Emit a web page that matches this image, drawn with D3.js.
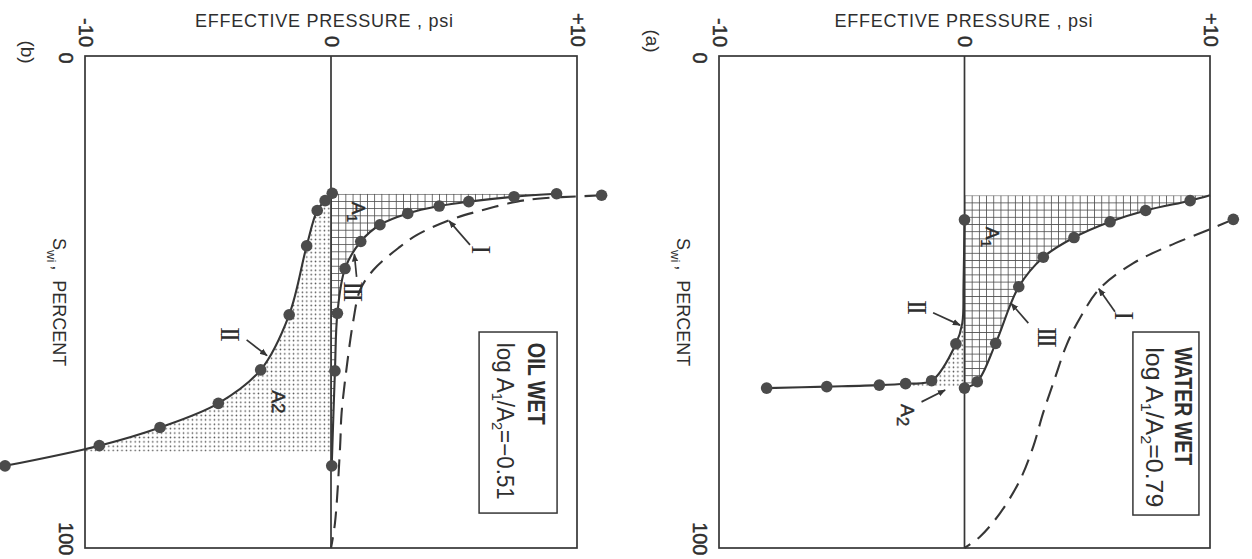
<!DOCTYPE html>
<html>
<head>
<meta charset="utf-8">
<script src="https://cdn.jsdelivr.net/npm/d3@7"></script>
<style>
  html, body { margin: 0; padding: 0; background: #ffffff; }
  svg { display: block; }
  text { font-family: "Liberation Sans", Arial, Helvetica, sans-serif; fill: #2e2e2e; }
  text.roman { font-family: "Liberation Serif", "DejaVu Serif", serif; }
  text.heavy { stroke: #2e2e2e; stroke-width: 0.45px; }
</style>
</head>
<body>
<svg id="chart" width="1252" height="559"></svg>
<script>
// ---------- axis ticks ----------
const psiTicks = [-10, 0, 10];
const psiTickLabels = ["-10", "0", "+10"];
const satTicks = [0, 100];
const satTickLabels = ["0", "100"];

// ---------- (b) oil wet : effective pressure (psi) vs S_wi (%) ----------
const oilI_psi   = [11.0, 10.24, 8.62, 7.55, 6.18, 4.84, 3.48, 2.80, 1.72, 1.18, 0.91, 0.64, 0.43, 0.37, 0.16, 0];
const oilI_sat   = [28.3, 28.5, 28.9, 29.6, 31.3, 33.3, 36.4, 38.8, 43.5, 47.6, 53.7, 63.2, 72.6, 79.4, 95.0, 100];
const oilI_dot   = [1, 0, 0, 0, 0, 0, 0, 0, 0, 0, 0, 0, 0, 0, 0, 0];
const oilII_psi  = [0.05, -0.24, -0.56, -0.99, -1.70, -2.86, -4.58, -6.95, -9.42, -13.25];
const oilII_sat  = [27.9, 29.4, 31.4, 38.6, 52.6, 63.8, 70.6, 75.5, 79.2, 83.3];
const oilII_dot  = [1, 1, 1, 1, 1, 1, 1, 1, 1, 1];
const oilIII_psi = [9.17, 7.44, 5.60, 4.40, 3.12, 1.99, 1.21, 0.57, 0.26, 0.16, 0.03];
const oilIII_sat = [28.0, 28.6, 29.6, 30.5, 32.0, 34.3, 37.7, 43.2, 52.3, 64.0, 83.3];
const oilIII_dot = [1, 1, 1, 1, 1, 1, 1, 1, 1, 1, 1];

// ---------- (a) water wet ----------
const waterI_psi   = [10.95, 10.0, 8.24, 6.88, 5.52, 4.70, 4.16, 3.69, 3.20, 2.80, 2.26, 1.45, 0.63, 0];
const waterI_sat   = [33.2, 35.2, 38.8, 42.1, 47.2, 53.3, 58.7, 65.4, 72.6, 79.4, 86.2, 92.9, 97.7, 100];
const waterI_dot   = [1, 0, 0, 0, 0, 0, 0, 0, 0, 0, 0, 0, 0, 0];
const waterII_psi  = [0, -0.04, -0.09, -0.35, -1.34, -2.40, -3.47, -5.61, -8.06];
const waterII_sat  = [33.3, 46.7, 54.3, 58.5, 66.0, 66.6, 66.9, 67.2, 67.5];
const waterII_dot  = [1, 0, 0, 1, 1, 1, 1, 1, 1];
const waterIII_psi = [10.0, 9.19, 7.38, 5.93, 4.46, 3.21, 2.21, 1.27, 0.52, 0];
const waterIII_sat = [28.3, 29.4, 31.4, 33.7, 36.9, 40.9, 46.9, 58.4, 66.2, 67.5];
const waterIII_dot = [0, 1, 1, 1, 1, 1, 1, 1, 1, 1];

// ---------- panel captions ----------
const panelTags   = ["(b)", "(a)"];
const wettability = ["OIL WET", "WATER WET"];
const logRatio    = ["\u22120.51", "0.79"];

const INK = "#363636";
const DOT = "#4b4b4b";

const svg = d3.select("#chart");
const defs = svg.append("defs");

defs.append("marker")
  .attr("id", "arrow")
  .attr("viewBox", "0 0 10 10")
  .attr("refX", 9).attr("refY", 5)
  .attr("markerWidth", 8).attr("markerHeight", 8)
  .attr("markerUnits", "userSpaceOnUse")
  .attr("orient", "auto")
  .append("path").attr("d", "M0,1 L10,5 L0,9 Z").attr("fill", INK);

const zip = (psi, sat, dot) => psi.map((p, i) => ({ p, s: sat[i], dot: dot[i] }));

const panels = [
  {
    key: "b", left: 85, right: 577, tag: panelTags[0], tagPos: [28, 52], titleShift: -7, satLabelX: 53,
    curveI: zip(oilI_psi, oilI_sat, oilI_dot),
    curveII: zip(oilII_psi, oilII_sat, oilII_dot),
    curveIII: zip(oilIII_psi, oilIII_sat, oilIII_dot),
    a1: { top: 28.0, bottom: 83.3 },
    a2: { top: 27.9, bottom: 80.4, left: -10 },
    a1Label: { p: 1.10, s: 31.7 },
    a2Label: { p: -2.15, s: 70.3, sub: false, arrow: null },
    roman: [
      { t: "III", p: 0.89, s: 47.6, from: [1.04, 44.9], to: [0.95, 40.3] },
      { t: "I",   p: 6.10, s: 39.4, from: [5.65, 38.4], to: [4.80, 33.5] },
      { t: "II",  p: -4.11, s: 56.3, from: [-3.43, 57.7], to: [-2.60, 60.9] }
    ],
    box: { p0: 6.02, p1: 9.19, s0: 56.1, s1: 92.9 },
    wetBase: 8.0, ratioBase: 6.75, textStart: 58.3,
    wetLen: 82, ratioLen: 157,
    wet: wettability[0], ratio: logRatio[0]
  },
  {
    key: "a", left: 719, right: 1210, tag: panelTags[1], tagPos: [653, 41], titleShift: -1, satLabelX: 677,
    curveI: zip(waterI_psi, waterI_sat, waterI_dot),
    curveII: zip(waterII_psi, waterII_sat, waterII_dot),
    curveIII: zip(waterIII_psi, waterIII_sat, waterIII_dot),
    a1: { top: 28.3, bottom: 67.5 },
    a2: { top: 33.3, bottom: 67.1, left: -2.25 },
    a1Label: { p: 1.12, s: 36.8 },
    a2Label: { p: -2.34, s: 73.0, sub: true, arrow: { from: [-1.75, 70.3], to: [-0.79, 67.9] } },
    roman: [
      { t: "II",  p: -1.93, s: 50.8, from: [-1.28, 52.2], to: [-0.18, 54.7] },
      { t: "III", p: 3.36, s: 56.9, from: [2.60, 54.3], to: [1.90, 50.3] },
      { t: "I",   p: 6.50, s: 52.8, from: [6.13, 52.0], to: [5.47, 47.3] }
    ],
    box: { p0: 6.86, p1: 9.55, s0: 56.1, s1: 93.3 },
    wetBase: 8.57, ratioBase: 7.39, textStart: 59.2,
    wetLen: 118, ratioLen: 160,
    wet: wettability[1], ratio: logRatio[1]
  }
];

// text turned a quarter turn clockwise, reading downward
function turned(g, px, py, anchor) {
  return g.append("text")
    .attr("transform", `translate(${px},${py}) rotate(90)`)
    .attr("text-anchor", anchor);
}
function runs(text, list) {
  list.forEach(r => {
    const t = text.append("tspan").attr("font-size", r.size).text(r.t);
    if (r.dy) t.attr("dy", r.dy);
    if (r.dx) t.attr("dx", r.dx);
  });
  return text;
}

panels.forEach(cfg => {
  const x = d3.scaleLinear().domain([-10, 10]).range([cfg.left, cfg.right]);
  const y = d3.scaleLinear().domain([0, 100]).range([56, 548]);
  const line = d3.line().x(d => x(d.p)).y(d => y(d.s)).curve(d3.curveCatmullRom.alpha(0.5));
  const g = svg.append("g");

  // fill patterns: square grid for A1, stipple for A2
  const hatch = defs.append("pattern")
    .attr("id", "grid-" + cfg.key).attr("patternUnits", "userSpaceOnUse")
    .attr("x", x(0)).attr("y", y(cfg.a1.top)).attr("width", 7.2).attr("height", 7.2);
  hatch.append("path").attr("d", "M0,0.4H7.2M0.4,0V7.2")
    .attr("stroke", "#4a4a4a").attr("stroke-width", 0.85).attr("fill", "none");
  const stip = defs.append("pattern")
    .attr("id", "stip-" + cfg.key).attr("patternUnits", "userSpaceOnUse")
    .attr("x", x(0)).attr("y", y(cfg.a2.top)).attr("width", 4.4).attr("height", 4.4);
  stip.append("circle").attr("cx", 2.2).attr("cy", 2.2).attr("r", 0.8).attr("fill", "#4a4a4a");

  defs.append("clipPath").attr("id", "clipA1-" + cfg.key).append("rect")
    .attr("x", x(0)).attr("y", y(cfg.a1.top))
    .attr("width", x(10) - x(0)).attr("height", y(cfg.a1.bottom) - y(cfg.a1.top));
  defs.append("clipPath").attr("id", "clipA2-" + cfg.key).append("rect")
    .attr("x", x(cfg.a2.left)).attr("y", y(cfg.a2.top))
    .attr("width", x(0) - x(cfg.a2.left)).attr("height", y(cfg.a2.bottom) - y(cfg.a2.top));

  // A1: between the zero line and curve III
  const iii = cfg.curveIII, ii = cfg.curveII;
  const lastIII = iii[iii.length - 1], lastII = ii[ii.length - 1];
  g.append("path")
    .attr("d", line(iii) + `L${x(0)},${y(lastIII.s)}L${x(0)},${y(cfg.a1.top)}Z`)
    .attr("fill", `url(#grid-${cfg.key})`).attr("clip-path", `url(#clipA1-${cfg.key})`);
  // A2: between curve II and the zero line
  g.append("path")
    .attr("d", line(ii) + `L${x(0)},${y(lastII.s)}Z`)
    .attr("fill", `url(#stip-${cfg.key})`).attr("clip-path", `url(#clipA2-${cfg.key})`);

  // frame and zero-pressure line
  g.append("rect")
    .attr("x", x(-10)).attr("y", y(0))
    .attr("width", x(10) - x(-10)).attr("height", y(100) - y(0))
    .attr("fill", "none").attr("stroke", INK).attr("stroke-width", 1.7);
  g.append("line")
    .attr("x1", x(0)).attr("x2", x(0)).attr("y1", y(0)).attr("y2", y(100))
    .attr("stroke", INK).attr("stroke-width", 1.7);

  // pressure ticks along the top
  const ax = g.append("g").attr("transform", `translate(0,${y(0)})`)
    .call(d3.axisTop(x).tickValues(psiTicks).tickSize(0).tickFormat((d, i) => psiTickLabels[i]));
  ax.select(".domain").remove();
  ax.selectAll("text")
    .attr("class", "heavy")
    .attr("x", 0).attr("y", 0).attr("dy", "0.35em")
    .attr("text-anchor", "end").attr("font-size", 20)
    .attr("transform", "translate(0,-9) rotate(90)");

  // saturation ticks on the left
  const ay = g.append("g").attr("transform", `translate(${x(-10)},0)`)
    .call(d3.axisLeft(y).tickValues(satTicks).tickSize(0).tickFormat((d, i) => satTickLabels[i]));
  ay.select(".domain").remove();
  ay.selectAll("text")
    .attr("class", "heavy")
    .attr("x", 0).attr("y", 0).attr("dy", "0.35em")
    .attr("text-anchor", "end").attr("font-size", 20)
    .attr("transform", "translate(-19,7) rotate(90)");

  // axis titles
  g.append("text")
    .attr("x", x(0) + cfg.titleShift).attr("y", 27)
    .attr("text-anchor", "middle").attr("font-size", 18)
    .attr("textLength", 258).attr("lengthAdjust", "spacing")
    .text("EFFECTIVE PRESSURE , psi");
  runs(turned(g, cfg.satLabelX, 238, "start"), [
    { t: "S", size: 18 },
    { t: "wi", size: 13, dy: 6 },
    { t: ",", size: 18, dy: -6, dx: 3 },
    { t: "PERCENT", size: 18, dx: 10 }
  ]);

  // panel tag
  turned(g, cfg.tagPos[0], cfg.tagPos[1], "middle")
    .attr("dy", "0.35em").attr("font-size", 19).text(cfg.tag);

  // curves
  g.append("path").attr("d", line(cfg.curveI))
    .attr("fill", "none").attr("stroke", INK).attr("stroke-width", 2.1)
    .attr("stroke-dasharray", "17,9");
  [cfg.curveII, cfg.curveIII].forEach(c => {
    g.append("path").attr("d", line(c))
      .attr("fill", "none").attr("stroke", INK).attr("stroke-width", 2.1);
  });
  const pts = [...cfg.curveI, ...cfg.curveII, ...cfg.curveIII].filter(d => d.dot);
  g.selectAll("circle.pt").data(pts).join("circle")
    .attr("class", "pt")
    .attr("cx", d => x(d.p)).attr("cy", d => y(d.s)).attr("r", 5.8)
    .attr("fill", DOT);

  // curve labels with arrows
  cfg.roman.forEach(r => {
    turned(g, x(r.p), y(r.s), "middle")
      .attr("class", "roman").attr("font-size", 27).attr("dy", "0.34em")
      .attr("letter-spacing", r.t.length > 1 ? -3 : 0)
      .text(r.t);
    g.append("line")
      .attr("x1", x(r.from[0])).attr("y1", y(r.from[1]))
      .attr("x2", x(r.to[0])).attr("y2", y(r.to[1]))
      .attr("stroke", INK).attr("stroke-width", 1.7)
      .attr("marker-end", "url(#arrow)");
  });

  // area labels
  runs(turned(g, x(cfg.a1Label.p), y(cfg.a1Label.s), "middle").attr("class", "heavy"), [
    { t: "A", size: 19, dy: 6 },
    { t: "1", size: 14, dy: 5 }
  ]);
  runs(turned(g, x(cfg.a2Label.p), y(cfg.a2Label.s), "middle").attr("class", "heavy"),
    cfg.a2Label.sub
      ? [{ t: "A", size: 19, dy: 6 }, { t: "2", size: 17, dy: 4 }]
      : [{ t: "A2", size: 19, dy: 6 }]);
  if (cfg.a2Label.arrow) {
    const a = cfg.a2Label.arrow;
    g.append("line")
      .attr("x1", x(a.from[0])).attr("y1", y(a.from[1]))
      .attr("x2", x(a.to[0])).attr("y2", y(a.to[1]))
      .attr("stroke", INK).attr("stroke-width", 1.7)
      .attr("marker-end", "url(#arrow)");
  }

  // wettability box
  g.append("rect")
    .attr("x", x(cfg.box.p0)).attr("y", y(cfg.box.s0))
    .attr("width", x(cfg.box.p1) - x(cfg.box.p0)).attr("height", y(cfg.box.s1) - y(cfg.box.s0))
    .attr("fill", "#ffffff").attr("stroke", INK).attr("stroke-width", 1.5);
  turned(g, x(cfg.wetBase), y(cfg.textStart), "start")
    .attr("font-size", 23).attr("font-weight", "bold")
    .attr("textLength", cfg.wetLen).attr("lengthAdjust", "spacingAndGlyphs")
    .text(cfg.wet);
  runs(turned(g, x(cfg.ratioBase), y(cfg.textStart), "start")
      .attr("textLength", cfg.ratioLen).attr("lengthAdjust", "spacingAndGlyphs"), [
    { t: "log A", size: 23 },
    { t: "1", size: 15, dy: 5 },
    { t: "/A", size: 23, dy: -5 },
    { t: "2", size: 15, dy: 5 },
    { t: "=" + cfg.ratio, size: 23, dy: -5 }
  ]);
});
</script>
</body>
</html>
